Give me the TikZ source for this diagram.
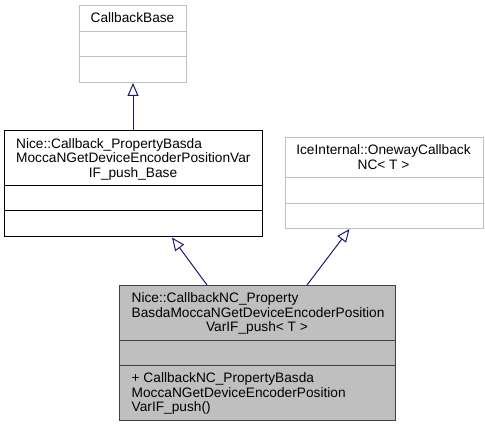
\documentclass[tikz,border=0pt]{standalone}
\usepackage{fontspec}
\setmainfont{Liberation Sans}
\usetikzlibrary{arrows.meta}
\definecolor{edgeblue}{HTML}{191970}
\definecolor{lightborder}{HTML}{BFBFBF}
\definecolor{classfill}{HTML}{BFBFBF}
\definecolor{darkborder}{HTML}{404040}
\begin{document}
\begin{tikzpicture}[x=1pt,y=-1pt,
  box/.style={rectangle,inner sep=0pt,line width=1pt,anchor=north west},
  extbox/.style={box,draw=lightborder,fill=white},
  mainbox/.style={box,draw=black,fill=white},
  curbox/.style={box,draw=darkborder,fill=classfill},
  txt/.style={inner sep=0pt,font=\fontsize{13.7}{14.5}\selectfont},
  inherit/.style={draw=edgeblue,line width=1pt,-{Triangle[open,length=13pt,width=11pt]}}]
\useasboundingbox (0,0) rectangle (485,427);

% CallbackBase
\node[extbox,minimum width=107pt,minimum height=77pt] (cb) at (79,5) {};
\draw[lightborder,line width=1pt] (79,32) -- (186,32) (79,57) -- (186,57);
\node[txt,anchor=base] (cbt) at (132.5,23) {CallbackBase};

% Nice::Callback_..._Base
\node[mainbox,minimum width=258pt,minimum height=106.5pt] (nb) at (4,130) {};
\draw[black,line width=1pt] (4,186) -- (262,186) (4,211) -- (262,211);
\node[txt,anchor=base west] (nbt1) at (16,148.5) {Nice::Callback\_PropertyBasda};
\node[txt,anchor=base west] (nbt2) at (16,163) {MoccaNGetDeviceEncoderPositionVar};
\node[txt,anchor=base] (nbt3) at (133,177.5) {IF\_push\_Base};

% IceInternal::OnewayCallbackNC
\node[extbox,minimum width=198pt,minimum height=91pt] (ic) at (284.5,137) {};
\draw[lightborder,line width=1pt] (284.5,178) -- (482.5,178) (284.5,204) -- (482.5,204);
\node[txt,anchor=base] (ict1) at (383.5,155) {IceInternal::OnewayCallback};
\node[txt,anchor=base] (ict2) at (383.5,169.5) {NC< T >};

% Nice::CallbackNC_...<T>
\node[curbox,minimum width=276pt,minimum height=135pt] (nc) at (119,285) {};
\draw[darkborder,line width=1pt] (119,341) -- (395,341) (119,366) -- (395,366);
\node[txt,anchor=base west] (nct1) at (131.5,302.8) {Nice::CallbackNC\_Property};
\node[txt,anchor=base west] (nct2) at (131.5,317.3) {BasdaMoccaNGetDeviceEncoderPosition};
\node[txt,anchor=base] (nct3) at (257,331.8) {VarIF\_push< T >};
\node[txt,anchor=base west] (ncm1) at (131.5,382.8) {+ CallbackNC\_PropertyBasda};
\node[txt,anchor=base west] (ncm2) at (131.5,397.3) {MoccaNGetDeviceEncoderPosition};
\node[txt,anchor=base west] (ncm3) at (131.5,411.8) {VarIF\_push()};

% connector end points on the boxes
\path (nb.north west) ++(129,0) coordinate (nbtop);
\path (cb.south west) ++(54,0) coordinate (cbbot);
\path (nc.north west) ++(88,0) coordinate (ncl);
\path (nb.south west) ++(168,0) coordinate (nbbot);
\path (nc.north west) ++(188,0) coordinate (ncr);
\path (ic.south west) ++(65,0) coordinate (icbot);

\draw[inherit] (nbtop) -- (cbbot);
\draw[inherit] (ncl) -- (nbbot);
\draw[inherit] (ncr) -- (icbot);
\end{tikzpicture}
\end{document}
